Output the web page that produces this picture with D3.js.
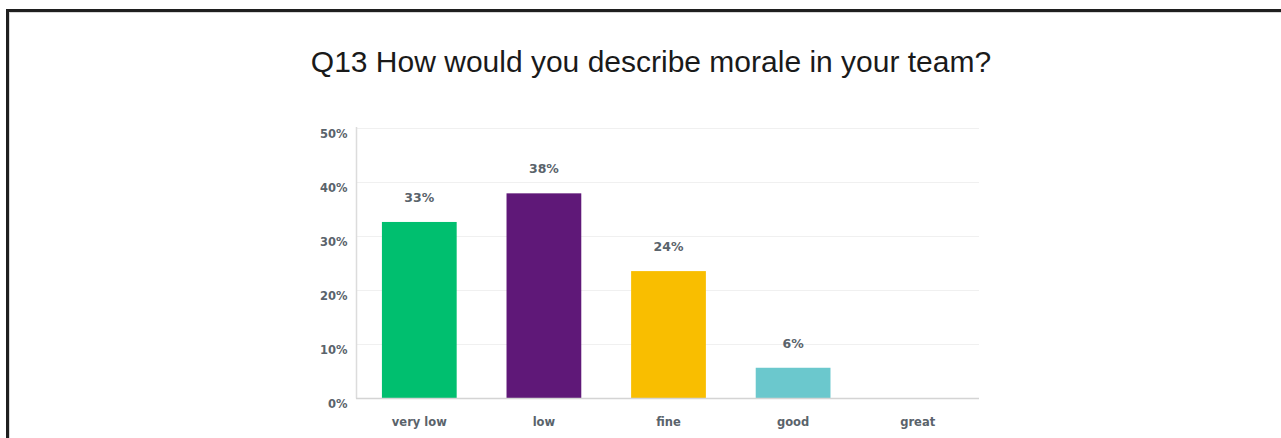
<!DOCTYPE html>
<html><head><meta charset="utf-8">
<script src="https://cdn.jsdelivr.net/npm/d3@7"></script>
<style>
html,body{margin:0;padding:0;background:#fff;overflow:hidden;}
svg{display:block;}
</style></head>
<body>
<svg id="chart" width="1281" height="438"></svg>
<script>
const title = "Q13 How would you describe morale in your team?";
const categories = ["very low", "low", "fine", "good", "great"];
const values = [32.6, 37.9, 23.5, 5.6, 0];
const colors = ["#00bf6f", "#5f1878", "#f9be00", "#6bc8cd", "#a0a0a0"];
const yTicks = [0, 10, 20, 30, 40, 50];

const svg = d3.select("#chart");
const W = 1281, H = 438;

// outer frame
svg.append("rect").attr("x", 7.5).attr("y", 10.5).attr("width", W + 20).attr("height", H + 20)
  .attr("fill", "none").attr("stroke", "#1f1f1f").attr("stroke-width", 3);
svg.append("rect").attr("x", 9.5).attr("y", 12.5).attr("width", W + 20).attr("height", H + 20)
  .attr("fill", "none").attr("stroke", "#d8d8d8").attr("stroke-width", 1);

svg.append("text").attr("x", 651).attr("y", 72).attr("text-anchor", "middle")
  .attr("font-family", "Liberation Sans, Arial, sans-serif").attr("font-size", 30)
  .attr("fill", "#1a1a1a").text(title);

const x = d3.scaleBand().domain(categories).range([357, 980]).paddingInner(0.4).paddingOuter(0.2);
const y = d3.scaleLinear().domain([0, 50]).range([398, 128]);

const tickFont = "'DejaVu Sans', Verdana, sans-serif";
const tickColor = "#5a636b";

// grid
svg.append("g").selectAll("line").data(yTicks.filter(t => t > 0)).join("line")
  .attr("x1", 357).attr("x2", 979).attr("y1", d => Math.round(y(d)) + 0.5).attr("y2", d => Math.round(y(d)) + 0.5)
  .attr("stroke", "#f0f0f0").attr("stroke-width", 1);

// y axis
const yAxis = d3.axisLeft(y).tickValues(yTicks).tickFormat(d => d + "%").tickSize(0).tickPadding(9);
const gy = svg.append("g").attr("transform", "translate(356.5,6)").call(yAxis);
gy.select(".domain").remove();
gy.selectAll("text").attr("font-family", tickFont).attr("font-weight", 700).attr("font-size", 11.5).attr("fill", tickColor);

svg.append("line").attr("x1", 356.5).attr("x2", 356.5).attr("y1", 127).attr("y2", 398.5)
  .attr("stroke", "#dcdcdc").attr("stroke-width", 1.5);

// bars
svg.append("g").selectAll("rect").data(categories).join("rect")
  .attr("x", d => x(d)).attr("width", x.bandwidth())
  .attr("y", (d, i) => y(values[i])).attr("height", (d, i) => y(0) - y(values[i]))
  .attr("fill", (d, i) => colors[i]);

// baseline
svg.append("line").attr("x1", 356).attr("x2", 979).attr("y1", 398.5).attr("y2", 398.5)
  .attr("stroke", "#d4d4d4").attr("stroke-width", 1.5);

// value labels
svg.append("g").selectAll("text").data(categories.filter((d, i) => values[i] > 0)).join("text")
  .attr("x", d => x(d) + x.bandwidth() / 2)
  .attr("y", d => y(values[categories.indexOf(d)]) - 20)
  .attr("text-anchor", "middle")
  .attr("font-family", tickFont).attr("font-weight", 700).attr("font-size", 12.5).attr("fill", tickColor)
  .text(d => Math.round(values[categories.indexOf(d)]) + "%");

// x axis
const xAxis = d3.axisBottom(x).tickSize(0).tickPadding(20);
const gx = svg.append("g").attr("transform", "translate(0,398)").call(xAxis);
gx.select(".domain").remove();
gx.selectAll("text").attr("font-family", tickFont).attr("font-weight", 700).attr("font-size", 11.5).attr("fill", tickColor);
</script>
</body></html>
